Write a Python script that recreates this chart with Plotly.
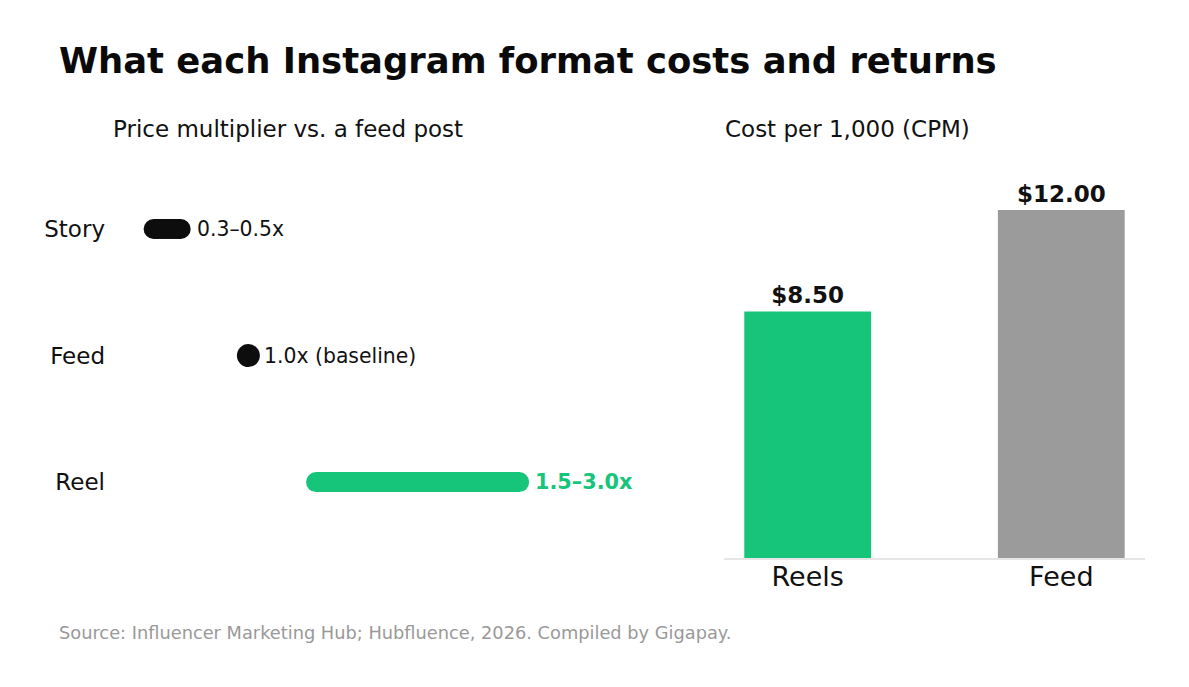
import plotly.graph_objects as go

# ---- data ----
formats = ["Story", "Feed", "Reel"]
mult_low = [0.3, 1.0, 1.5]
mult_high = [0.5, 1.0, 3.0]
mult_labels = ["0.3–0.5x", "1.0x (baseline)", "1.5–3.0x"]

cpm_formats = ["Reels", "Feed"]
cpm_values = [8.50, 12.00]
cpm_labels = ["$8.50", "$12.00"]

GREEN = "#16C47A"
BLACK = "#0d0d0d"
GRAY = "#9B9B9B"
range_colors = [BLACK, BLACK, GREEN]
bar_colors = [GREEN, GRAY]

W, H = 1189, 687
FONT = "DejaVu Sans"

fig = go.Figure()

# left panel: range bars
for i, f in enumerate(formats):
    lo, hi = mult_low[i], mult_high[i]
    if lo == hi:
        fig.add_trace(go.Scatter(
            x=[lo], y=[f], mode="markers",
            marker=dict(size=23, color=range_colors[i]),
            xaxis="x", yaxis="y", showlegend=False, hoverinfo="skip"))
    else:
        fig.add_trace(go.Scatter(
            x=[lo, hi], y=[f, f], mode="lines+markers",
            line=dict(width=20, color=range_colors[i]),
            marker=dict(size=20, color=range_colors[i]),
            xaxis="x", yaxis="y", showlegend=False, hoverinfo="skip"))
    is_green = range_colors[i] == GREEN
    fig.add_annotation(
        x=hi, y=f, xref="x", yref="y", text=mult_labels[i],
        showarrow=False, xanchor="left", yanchor="middle", xshift=14,
        font=dict(family=FONT, size=20.8 if is_green else 20.4,
                  color=GREEN if is_green else "#111111",
                  weight="bold" if is_green else "normal"))

# right panel: bars
fig.add_trace(go.Bar(
    x=cpm_formats, y=cpm_values, marker=dict(color=bar_colors, line=dict(width=0)),
    width=0.5, text=cpm_labels, textposition="outside", cliponaxis=False,
    textfont=dict(family=FONT, size=23, color="#111111", weight="bold"),
    xaxis="x2", yaxis="y2", showlegend=False, hoverinfo="skip"))

y_dom = [1 - 558 / H, 1 - 160 / H]

fig.update_layout(
    width=W, height=H,
    margin=dict(l=0, r=0, t=0, b=0),
    paper_bgcolor="white", plot_bgcolor="white",
    font=dict(family=FONT, color="#111111"),
    title=dict(text="<b>What each Instagram format costs and returns</b>",
               x=59 / W, xanchor="left", xref="paper",
               y=1 - 61 / H, yanchor="middle", yref="container",
               font=dict(family=FONT, size=35.4, color="#0a0a0a")),
    xaxis=dict(domain=[113 / W, 641 / W], range=[0, 3.9], visible=False,
               fixedrange=True),
    yaxis=dict(domain=y_dom, range=[2.6, -0.545], type="category",
               categoryorder="array", categoryarray=formats,
               showgrid=False, zeroline=False, showline=False, ticks="",
               tickfont=dict(family=FONT, size=23, color="#111111"),
               ticklabelstandoff=7, anchor="x"),
    xaxis2=dict(domain=[724 / W, 1145 / W], range=[-0.33, 1.33],
                showgrid=False, zeroline=False, showline=True,
                linecolor="#e6e6e6", linewidth=2, ticks="",
                tickfont=dict(family=FONT, size=27, color="#111111"),
                ticklabelstandoff=-6, anchor="y2"),
    yaxis2=dict(domain=y_dom, range=[0, 13.72], visible=False, anchor="x2"),
)

fig.add_annotation(text="Price multiplier vs. a feed post", x=111 / W, y=1 - 129 / H,
                   xref="paper", yref="paper", xanchor="left", yanchor="middle",
                   showarrow=False, font=dict(family=FONT, size=23, color="#111111"))
fig.add_annotation(text="Cost per 1,000 (CPM)", x=723 / W, y=1 - 129 / H,
                   xref="paper", yref="paper", xanchor="left", yanchor="middle",
                   showarrow=False, font=dict(family=FONT, size=23, color="#111111"))
fig.add_annotation(text="Source: Influencer Marketing Hub; Hubfluence, 2026. Compiled by Gigapay.",
                   x=57 / W, y=1 - 632 / H, xref="paper", yref="paper",
                   xanchor="left", yanchor="middle", showarrow=False,
                   font=dict(family=FONT, size=17.8, color="#999999"))

fig.write_html("out.html")
